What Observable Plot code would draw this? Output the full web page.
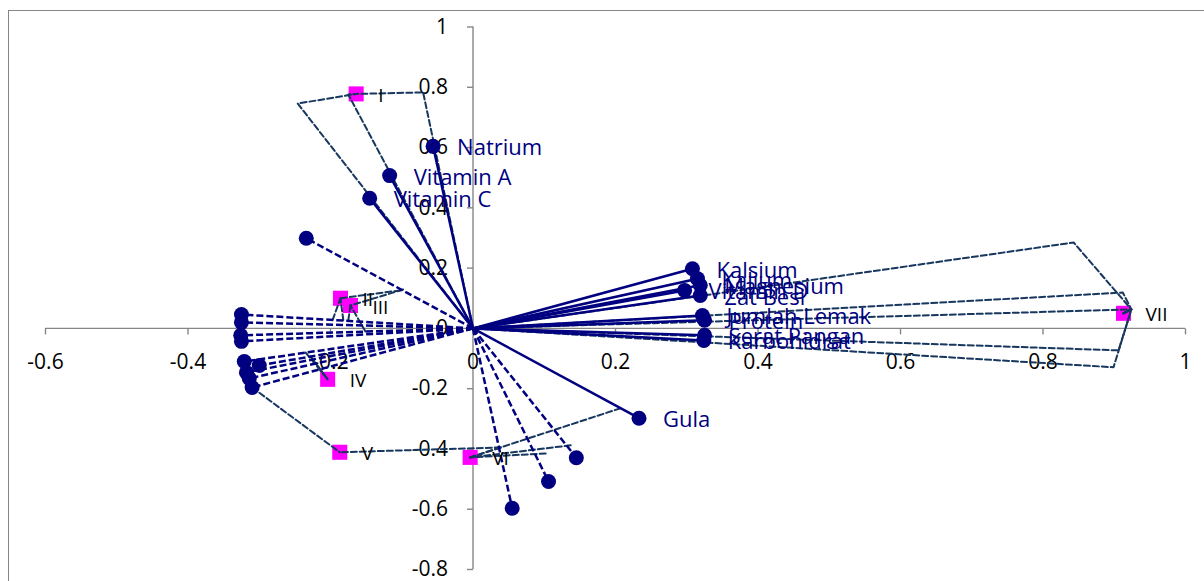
<!DOCTYPE html>
<html><head><meta charset="utf-8">
<script src="https://cdn.jsdelivr.net/npm/d3@7"></script>
<script src="https://cdn.jsdelivr.net/npm/@observablehq/plot@0.6"></script>
<style>
html,body{margin:0;padding:0;background:#fff;overflow:hidden;width:1204px;height:581px;}
#frame{position:absolute;left:8px;top:10px;width:1300px;height:700px;border:1.5px solid #868686;box-sizing:border-box;}
#chart{position:absolute;left:0;top:0;}
</style></head><body>
<div id="frame"></div><div id="chart"></div>
<script>
// Variables (solid vectors with labels)
const varNames = ["Natrium","Vitamin A","Vitamin C","Kalsium","Kalium","Magnesium","Vitamin D","Zat Besi","Jumlah Lemak","Protein","Serat Pangan","Karbohidrat","Gula"];
const varX = [-0.056,-0.117,-0.145,0.308,0.315,0.319,0.297,0.319,0.322,0.325,0.325,0.324,0.233];
const varY = [0.604,0.507,0.432,0.198,0.165,0.143,0.126,0.109,0.043,0.027,-0.023,-0.040,-0.298];

// Unlabeled points (dashed rays from origin)
const obsX = [-0.325,-0.325,-0.326,-0.325,-0.321,-0.300,-0.318,-0.314,-0.310,-0.234,0.055,0.106,0.145];
const obsY = [0.046,0.020,-0.023,-0.043,-0.110,-0.123,-0.146,-0.166,-0.196,0.299,-0.597,-0.508,-0.429];

// Group centroids
const groupNames = ["I","II","III","IV","V","VI","VII"];
const groupX = [-0.164,-0.186,-0.172,-0.204,-0.187,-0.004,0.913];
const groupY = [0.778,0.100,0.076,-0.169,-0.411,-0.428,0.050];

// Dashed group paths (each ends at its group's centroid)
const groupPaths = [
 ["I", [[0,0],[-0.246,0.746]]],
 ["I", [[0,0],[-0.175,0.776]]],
 ["I", [[0,0],[-0.070,0.783]]],
 ["II", [[-0.102,0.126]]],
 ["II", [[-0.197,0.028]]],
 ["II", [[-0.182,0.027]]],
 ["III", [[-0.098,0.129]]],
 ["III", [[-0.175,0.027]]],
 ["III", [[-0.151,-0.010]]],
 ["IV", [[-0.235,-0.080]]],
 ["IV", [[-0.228,-0.093]]],
 ["IV", [[-0.225,-0.103]]],
 ["V", [[-0.310,-0.196]]],
 ["V", [[0.039,-0.395]]],
 ["VI", [[0.207,-0.265]]],
 ["VI", [[0.137,-0.388]]],
 ["VI", [[0.102,-0.415]]],
 ["VI", [[0.039,-0.395]]],
 ["VII", [[0,0],[0.843,0.285],[0.924,0.063]]],
 ["VII", [[0,0],[0.912,0.119],[0.924,0.063]]],
 ["VII", [[0,0],[0.924,0.063]]],
 ["VII", [[0,0],[0.906,-0.073],[0.924,0.063]]],
 ["VII", [[0,0],[0.899,-0.129],[0.924,0.063]]]
];

const xTicks = [-0.6,-0.4,-0.2,0,0.2,0.4,0.6,0.8,1];
const xTickLabels = ["-0.6","-0.4","-0.2","0","0.2","0.4","0.6","0.8","1"];
const yTicks = [-0.8,-0.6,-0.4,-0.2,0,0.2,0.4,0.6,0.8,1];
const yTickLabels = ["-0.8","-0.6","-0.4","-0.2","0","0.2","0.4","0.6","0.8","1"];

const pathRows = [];
groupPaths.forEach(([g, pts], k) => {
  const gi = groupNames.indexOf(g);
  pts.concat([[groupX[gi], groupY[gi]]]).forEach(([x, y]) => pathRows.push({k, x, y}));
});

const tickDown = {draw(ctx){ctx.moveTo(0,0); ctx.lineTo(0,6);}};
const tickLeft = {draw(ctx){ctx.moveTo(0,0); ctx.lineTo(-6,0);}};
const axisColor = "#868686";

const chart = Plot.plot({
  width: 1204, height: 581,
  marginLeft: 45, marginRight: 19, marginTop: 26.5, marginBottom: 12,
  x: {domain: [-0.6, 1], axis: null},
  y: {domain: [-0.8, 1], axis: null},
  style: {fontFamily: "'Open Sans', sans-serif", background: "transparent", overflow: "visible"},
  marks: [
    Plot.ruleY([0], {stroke: axisColor, strokeWidth: 1.4}),
    Plot.ruleX([0], {stroke: axisColor, strokeWidth: 1.4}),
    Plot.dot(xTicks, {x: d => d, y: d => 0, symbol: tickDown, stroke: axisColor, strokeWidth: 1.4, fill: "none"}),
    Plot.dot(yTicks, {x: d => 0, y: d => d, symbol: tickLeft, stroke: axisColor, strokeWidth: 1.4, fill: "none"}),
    Plot.text(xTicks, {x: d => d, y: d => 0, text: (d, i) => xTickLabels[i], dy: 34, fontSize: 21, fill: "#000"}),
    Plot.text(yTicks, {x: d => 0, y: d => d, text: (d, i) => yTickLabels[i], dx: -25, textAnchor: "end", fontSize: 21, fill: "#000"}),
    Plot.dot(groupNames, {x: (d, i) => groupX[i], y: (d, i) => groupY[i], symbol: "square", r: 8.5, fill: "#ff00ff"}),
    Plot.line(pathRows, {x: "x", y: "y", z: "k", stroke: "#17375e", strokeWidth: 2, strokeDasharray: "6,3", curve: "linear"}),
    Plot.link(obsX, {x1: d => 0, y1: d => 0, x2: (d, i) => obsX[i], y2: (d, i) => obsY[i], stroke: "#000080", strokeWidth: 2.5, strokeDasharray: "7,3"}),
    Plot.link(varNames, {x1: d => 0, y1: d => 0, x2: (d, i) => varX[i], y2: (d, i) => varY[i], stroke: "#000080", strokeWidth: 2.5}),
    Plot.dot(obsX, {x: (d, i) => obsX[i], y: (d, i) => obsY[i], r: 7.5, fill: "#000080"}),
    Plot.dot(varNames, {x: (d, i) => varX[i], y: (d, i) => varY[i], r: 7.5, fill: "#000080"}),
    Plot.text(varNames, {x: (d, i) => varX[i], y: (d, i) => varY[i], text: d => d, dx: 24, dy: 2, textAnchor: "start", fill: "#000080", fontSize: 22}),
    Plot.text(groupNames, {x: (d, i) => groupX[i], y: (d, i) => groupY[i], text: d => d, dx: 22, dy: 2, textAnchor: "start", fill: "#000", fontSize: 19})
  ]
});
document.getElementById("chart").appendChild(chart);
</script>
</body></html>
